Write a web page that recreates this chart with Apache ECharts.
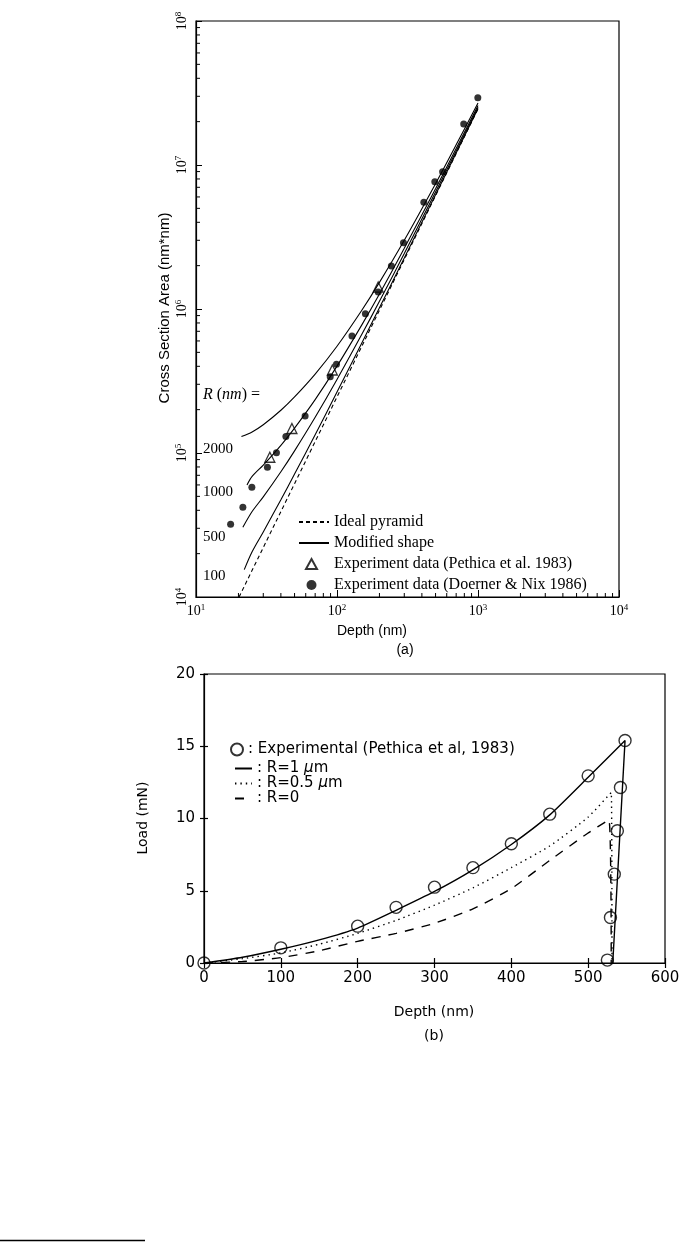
<!DOCTYPE html>
<html>
<head>
<meta charset="utf-8">
<script src="https://cdn.jsdelivr.net/npm/echarts@6/dist/echarts.min.js"></script>
<style>html,body{margin:0;padding:0;background:#fff;}#c{width:685px;height:1242px;}</style>
</head>
<body>
<div id="c"></div>
<script>
// ---------- (a) Cross section area vs depth (log-log) ----------
const idealDepth = [20.2, 50, 100, 200, 500, 1000];
const idealArea  = [10000, 61250, 245000, 980000, 6125000, 24500000];

const r2000Depth = [21, 25, 30, 40, 50, 70, 100, 150, 200, 300, 500, 700, 1000];
const r2000Area  = [130000, 140000, 157000, 198000, 245000, 353000, 551000, 980000, 1530000, 3000000, 7410000, 13800000, 27000000];
const r1000Depth = [23, 25, 30, 40, 50, 70, 100, 150, 200, 300, 500, 700, 1000];
const r1000Area  = [60000, 68800, 82400, 113000, 149000, 235000, 401000, 776000, 1270000, 2640000, 6830000, 13000000, 25900000];
const r500Depth  = [21.5, 25, 30, 40, 50, 70, 100, 150, 200, 300, 500, 700, 1000];
const r500Area   = [30500, 39200, 49600, 74100, 103500, 177000, 324000, 667000, 1130000, 2430000, 6500000, 12500000, 25200000];
const r100Depth  = [22, 25, 30, 40, 50, 70, 100, 150, 200, 300, 500, 700, 1000];
const r100Area   = [15500, 20600, 28300, 47400, 71400, 134000, 265000, 581000, 1020000, 2260000, 6220000, 12100000, 24700000];

const pethicaDepth = [33.4, 47.9, 92.7, 196];
const pethicaArea  = [93400, 148000, 377000, 1420000];

const doernerDepth = [17.6, 21.5, 24.9, 32.1, 37.2, 43.4, 59.4, 89.5, 99.1, 127.7, 159, 196, 243, 296, 413, 494, 561, 792, 997];
const doernerArea  = [32000, 42000, 57800, 79600, 100500, 130000, 181000, 339000, 413000, 650000, 927000, 1310000, 1990000, 2880000, 5510000, 7660000, 8980000, 19300000, 29300000];

const rLabels = ['2000', '1000', '500', '100'];

// minor tick values of the log axes (2..9 within each decade)
const minorMultipliers = [2, 3, 4, 5, 6, 7, 8, 9];
const xDecades = [10, 100, 1000];
const yDecades = [1e4, 1e5, 1e6, 1e7];

// ---------- (b) Load vs depth ----------
const expDepth = [0, 100, 200, 250, 300, 350, 400, 450, 500, 548, 542, 538, 534, 529, 525];
const expLoad  = [0, 1.05, 2.55, 3.85, 5.25, 6.6, 8.25, 10.3, 12.95, 15.4, 12.15, 9.15, 6.15, 3.15, 0.2];

const r1Depth  = [0, 50, 100, 150, 200, 250, 300, 350, 400, 450, 500, 548, 532];
const r1Load   = [0, 0.4, 0.95, 1.6, 2.42, 3.65, 4.95, 6.45, 8.2, 10.25, 12.85, 15.4, 0];
const r05Depth = [0, 50, 100, 150, 200, 250, 300, 350, 400, 450, 500, 530, 531];
const r05Load  = [0, 0.3, 0.7, 1.3, 2.05, 2.95, 4.0, 5.2, 6.6, 8.1, 10.1, 11.8, 0];
const r0Depth  = [0, 50, 100, 150, 200, 250, 300, 350, 400, 450, 500, 527, 530];
const r0Load   = [0, 0.1, 0.37, 0.85, 1.5, 2.05, 2.75, 3.75, 5.15, 7.1, 9.0, 9.9, 0];

const zip = (a, b) => a.map((v, i) => [v, b[i]]);
const minorX = [];
xDecades.forEach(d => minorMultipliers.forEach(m => minorX.push([d * m, 1e4])));
const minorY = [];
yDecades.forEach(d => minorMultipliers.forEach(m => minorY.push([10, d * m])));

const SERIF = 'Liberation Serif';
const SANS = 'Liberation Sans';
const GOTH = 'DejaVu Sans';

const supFmt = v => '10{s|' + Math.round(Math.log10(v)) + '}';
const supRich = { s: { fontSize: 9, fontFamily: SERIF, color: '#000', padding: [0, 0, 8, 0] } };

const chart = echarts.init(document.getElementById('c'), null, { renderer: 'canvas' });

const blackLine = (w, type) => ({ color: '#000', width: w, type: type || 'solid' });
const noSym = { color: 'rgba(0,0,0,0)', borderColor: 'rgba(0,0,0,0)', borderWidth: 0, opacity: 0 };
const lineItem = name => ({ name: name, itemStyle: noSym });

const option = {
  animation: false,
  backgroundColor: '#fff',
  grid: [
    { left: 196, top: 21, width: 423, height: 576, show: true, borderColor: '#000', borderWidth: 1.2, backgroundColor: 'transparent' },
    { left: 204, top: 674, width: 461, height: 289, show: true, borderColor: '#000', borderWidth: 1.2, backgroundColor: 'transparent' }
  ],
  xAxis: [
    { type: 'log', gridIndex: 0, min: 10, max: 10000, logBase: 10,
      axisLine: { lineStyle: blackLine(1.2) },
      axisTick: { inside: true, length: 7, lineStyle: blackLine(1) },
      axisLabel: { formatter: supFmt, color: '#000', fontFamily: SERIF, fontSize: 14, margin: 6, rich: supRich },
      splitLine: { show: false } },
    { type: 'value', gridIndex: 1, min: 0, max: 600, interval: 100,
      axisLine: { lineStyle: blackLine(1.2) },
      axisTick: { inside: false, length: 5, lineStyle: blackLine(1.2) },
      axisLabel: { color: '#000', fontFamily: GOTH, fontSize: 15, margin: 8 },
      splitLine: { show: false } },
    { type: 'value', gridIndex: 1, min: 0, max: 600, interval: 100, position: 'bottom',
      axisLine: { show: false },
      axisTick: { inside: true, length: 5, lineStyle: blackLine(1.2) },
      axisLabel: { show: false }, splitLine: { show: false } }
  ],
  yAxis: [
    { type: 'log', gridIndex: 0, min: 1e4, max: 1e8, logBase: 10,
      axisLine: { lineStyle: blackLine(1.2) },
      axisTick: { inside: true, length: 6, lineStyle: blackLine(1) },
      axisLabel: { formatter: supFmt, rotate: 90, color: '#000', fontFamily: SERIF, fontSize: 14, margin: 5, rich: supRich },
      splitLine: { show: false } },
    { type: 'value', gridIndex: 1, min: 0, max: 20, interval: 5,
      axisLine: { lineStyle: blackLine(1.2) },
      axisTick: { inside: false, length: 4, lineStyle: blackLine(1.2) },
      axisLabel: { color: '#000', fontFamily: GOTH, fontSize: 15, margin: 9 },
      splitLine: { show: false } },
    { type: 'value', gridIndex: 1, min: 0, max: 20, interval: 5, position: 'left',
      axisLine: { show: false },
      axisTick: { inside: true, length: 4, lineStyle: blackLine(1.2) },
      axisLabel: { show: false }, splitLine: { show: false } }
  ],
  legend: [
    { data: [lineItem('Ideal pyramid'), lineItem('Modified shape')],
      left: 293, top: 509, orient: 'vertical', itemWidth: 30, itemHeight: 9, itemGap: 5,
      selectedMode: false,
      textStyle: { fontFamily: SERIF, fontSize: 16, lineHeight: 16, color: '#000' } },
    { data: ['Experiment data (Pethica et al. 1983)', 'Experiment data (Doerner & Nix 1986)'],
      left: 300, top: 551, orient: 'vertical', itemWidth: 11, itemHeight: 10, itemGap: 5,
      selectedMode: false,
      textStyle: { fontFamily: SERIF, fontSize: 16, lineHeight: 16, color: '#000', padding: [0, 0, 0, 12] } },
    { data: ['Experimental (Pethica et al, 1983)'],
      left: 225, top: 737, orient: 'vertical', itemWidth: 12, itemHeight: 12, selectedMode: false,
      formatter: n => ': ' + n,
      textStyle: { fontFamily: GOTH, fontSize: 15, color: '#000' } },
    { data: [lineItem('R=1 μm'), lineItem('R=0.5 μm'), lineItem('R=0')],
      left: 229, top: 756, orient: 'vertical', itemWidth: 17, itemHeight: 10, itemGap: 0, selectedMode: false,
      formatter: n => ': ' + n.replace('μ', '{i|μ}'),
      textStyle: { fontFamily: GOTH, fontSize: 15, lineHeight: 15, color: '#000',
        rich: { i: { fontFamily: GOTH, fontSize: 15, fontStyle: 'italic', color: '#000' } } } }
  ],
  series: [
    { name: 'Ideal pyramid', type: 'line', xAxisIndex: 0, yAxisIndex: 0, data: zip(idealDepth, idealArea),
      symbol: 'none', lineStyle: { color: '#000', width: 1.1, type: [4, 3] }, itemStyle: { color: '#000' } },
    { name: 'Modified shape', type: 'line', xAxisIndex: 0, yAxisIndex: 0, data: zip(r2000Depth, r2000Area), smooth: 0.3,
      symbol: 'none', lineStyle: blackLine(1.1), itemStyle: { color: '#000' } },
    { name: 'Modified shape', type: 'line', xAxisIndex: 0, yAxisIndex: 0, data: zip(r1000Depth, r1000Area), smooth: 0.3,
      symbol: 'none', lineStyle: blackLine(1.1), itemStyle: { color: '#000' } },
    { name: 'Modified shape', type: 'line', xAxisIndex: 0, yAxisIndex: 0, data: zip(r500Depth, r500Area), smooth: 0.3,
      symbol: 'none', lineStyle: blackLine(1.1), itemStyle: { color: '#000' } },
    { name: 'Modified shape', type: 'line', xAxisIndex: 0, yAxisIndex: 0, data: zip(r100Depth, r100Area), smooth: 0.3,
      symbol: 'none', lineStyle: blackLine(1.1), itemStyle: { color: '#000' } },
    { name: 'Experiment data (Pethica et al. 1983)', type: 'scatter', xAxisIndex: 0, yAxisIndex: 0,
      data: zip(pethicaDepth, pethicaArea), symbol: 'triangle', symbolSize: 10,
      itemStyle: { color: '#fff', borderColor: '#000', borderWidth: 1.3 } },
    { name: 'Experiment data (Doerner & Nix 1986)', type: 'scatter', xAxisIndex: 0, yAxisIndex: 0,
      data: zip(doernerDepth, doernerArea), symbol: 'circle', symbolSize: 7,
      itemStyle: { color: '#000' } },
    { type: 'custom', xAxisIndex: 0, yAxisIndex: 0, data: minorX, silent: true, clip: false,
      renderItem: (p, api) => { const c = api.coord([api.value(0), api.value(1)]);
        return { type: 'line', shape: { x1: c[0], y1: c[1], x2: c[0], y2: c[1] - 4 }, style: { stroke: '#000', lineWidth: 1 } }; } },
    { type: 'custom', xAxisIndex: 0, yAxisIndex: 0, data: minorY, silent: true, clip: false,
      renderItem: (p, api) => { const c = api.coord([api.value(0), api.value(1)]);
        return { type: 'line', shape: { x1: c[0], y1: c[1], x2: c[0] + 4, y2: c[1] }, style: { stroke: '#000', lineWidth: 1 } }; } },

    { name: 'R=1 μm', type: 'line', xAxisIndex: 1, yAxisIndex: 1, data: zip(r1Depth, r1Load), smooth: 0.2,
      symbol: 'none', lineStyle: blackLine(1.4), itemStyle: { color: '#000' } },
    { name: 'R=0.5 μm', type: 'line', xAxisIndex: 1, yAxisIndex: 1, data: zip(r05Depth, r05Load), smooth: 0.2,
      symbol: 'none', lineStyle: { color: '#000', width: 1.4, type: [1.4, 4] }, itemStyle: { color: '#000' } },
    { name: 'R=0', type: 'line', xAxisIndex: 1, yAxisIndex: 1, data: zip(r0Depth, r0Load), smooth: 0.2,
      symbol: 'none', lineStyle: { color: '#000', width: 1.4, type: [9, 8] }, itemStyle: { color: '#000' } },
    { name: 'Experimental (Pethica et al, 1983)', type: 'scatter', xAxisIndex: 1, yAxisIndex: 1,
      data: zip(expDepth, expLoad), symbol: 'circle', symbolSize: 12,
      itemStyle: { color: 'rgba(255,255,255,0)', borderColor: '#000', borderWidth: 1.4 } }
  ],
  graphic: [
    { type: 'text', x: 165, y: 308, rotation: Math.PI / 2,
      style: { text: 'Cross Section Area (nm*nm)', fontFamily: SANS, fontSize: 15, fill: '#000', textAlign: 'center', textVerticalAlign: 'middle' } },
    { type: 'text', x: 372, y: 631,
      style: { text: 'Depth (nm)', fontFamily: SANS, fontSize: 14, fill: '#000', textAlign: 'center', textVerticalAlign: 'middle' } },
    { type: 'text', x: 405, y: 650,
      style: { text: '(a)', fontFamily: SANS, fontSize: 14, fill: '#000', textAlign: 'center', textVerticalAlign: 'middle' } },
    { type: 'text', x: 203, y: 395,
      style: { text: '{i|R} ({i|nm}) =', fontFamily: SERIF, fontSize: 16, fill: '#000', textVerticalAlign: 'middle',
        rich: { i: { fontFamily: SERIF, fontSize: 16, fontStyle: 'italic', fill: '#000' } } } },
    { type: 'text', x: 203, y: 449, style: { text: rLabels[0], fontFamily: SERIF, fontSize: 15, fill: '#000', textVerticalAlign: 'middle' } },
    { type: 'text', x: 203, y: 492, style: { text: rLabels[1], fontFamily: SERIF, fontSize: 15, fill: '#000', textVerticalAlign: 'middle' } },
    { type: 'text', x: 203, y: 537, style: { text: rLabels[2], fontFamily: SERIF, fontSize: 15, fill: '#000', textVerticalAlign: 'middle' } },
    { type: 'text', x: 203, y: 576, style: { text: rLabels[3], fontFamily: SERIF, fontSize: 15, fill: '#000', textVerticalAlign: 'middle' } },
    { type: 'text', x: 143, y: 818, rotation: Math.PI / 2,
      style: { text: 'Load (mN)', fontFamily: GOTH, fontSize: 14, fill: '#000', textAlign: 'center', textVerticalAlign: 'middle' } },
    { type: 'text', x: 434, y: 1012,
      style: { text: 'Depth (nm)', fontFamily: GOTH, fontSize: 14, fill: '#000', textAlign: 'center', textVerticalAlign: 'middle' } },
    { type: 'text', x: 434, y: 1036,
      style: { text: '(b)', fontFamily: GOTH, fontSize: 14, fill: '#000', textAlign: 'center', textVerticalAlign: 'middle' } },
    { type: 'line', shape: { x1: 0, y1: 1240.5, x2: 145, y2: 1240.5 }, style: { stroke: '#000', lineWidth: 1.5 } }
  ]
};
chart.setOption(option);
</script>
</body>
</html>
